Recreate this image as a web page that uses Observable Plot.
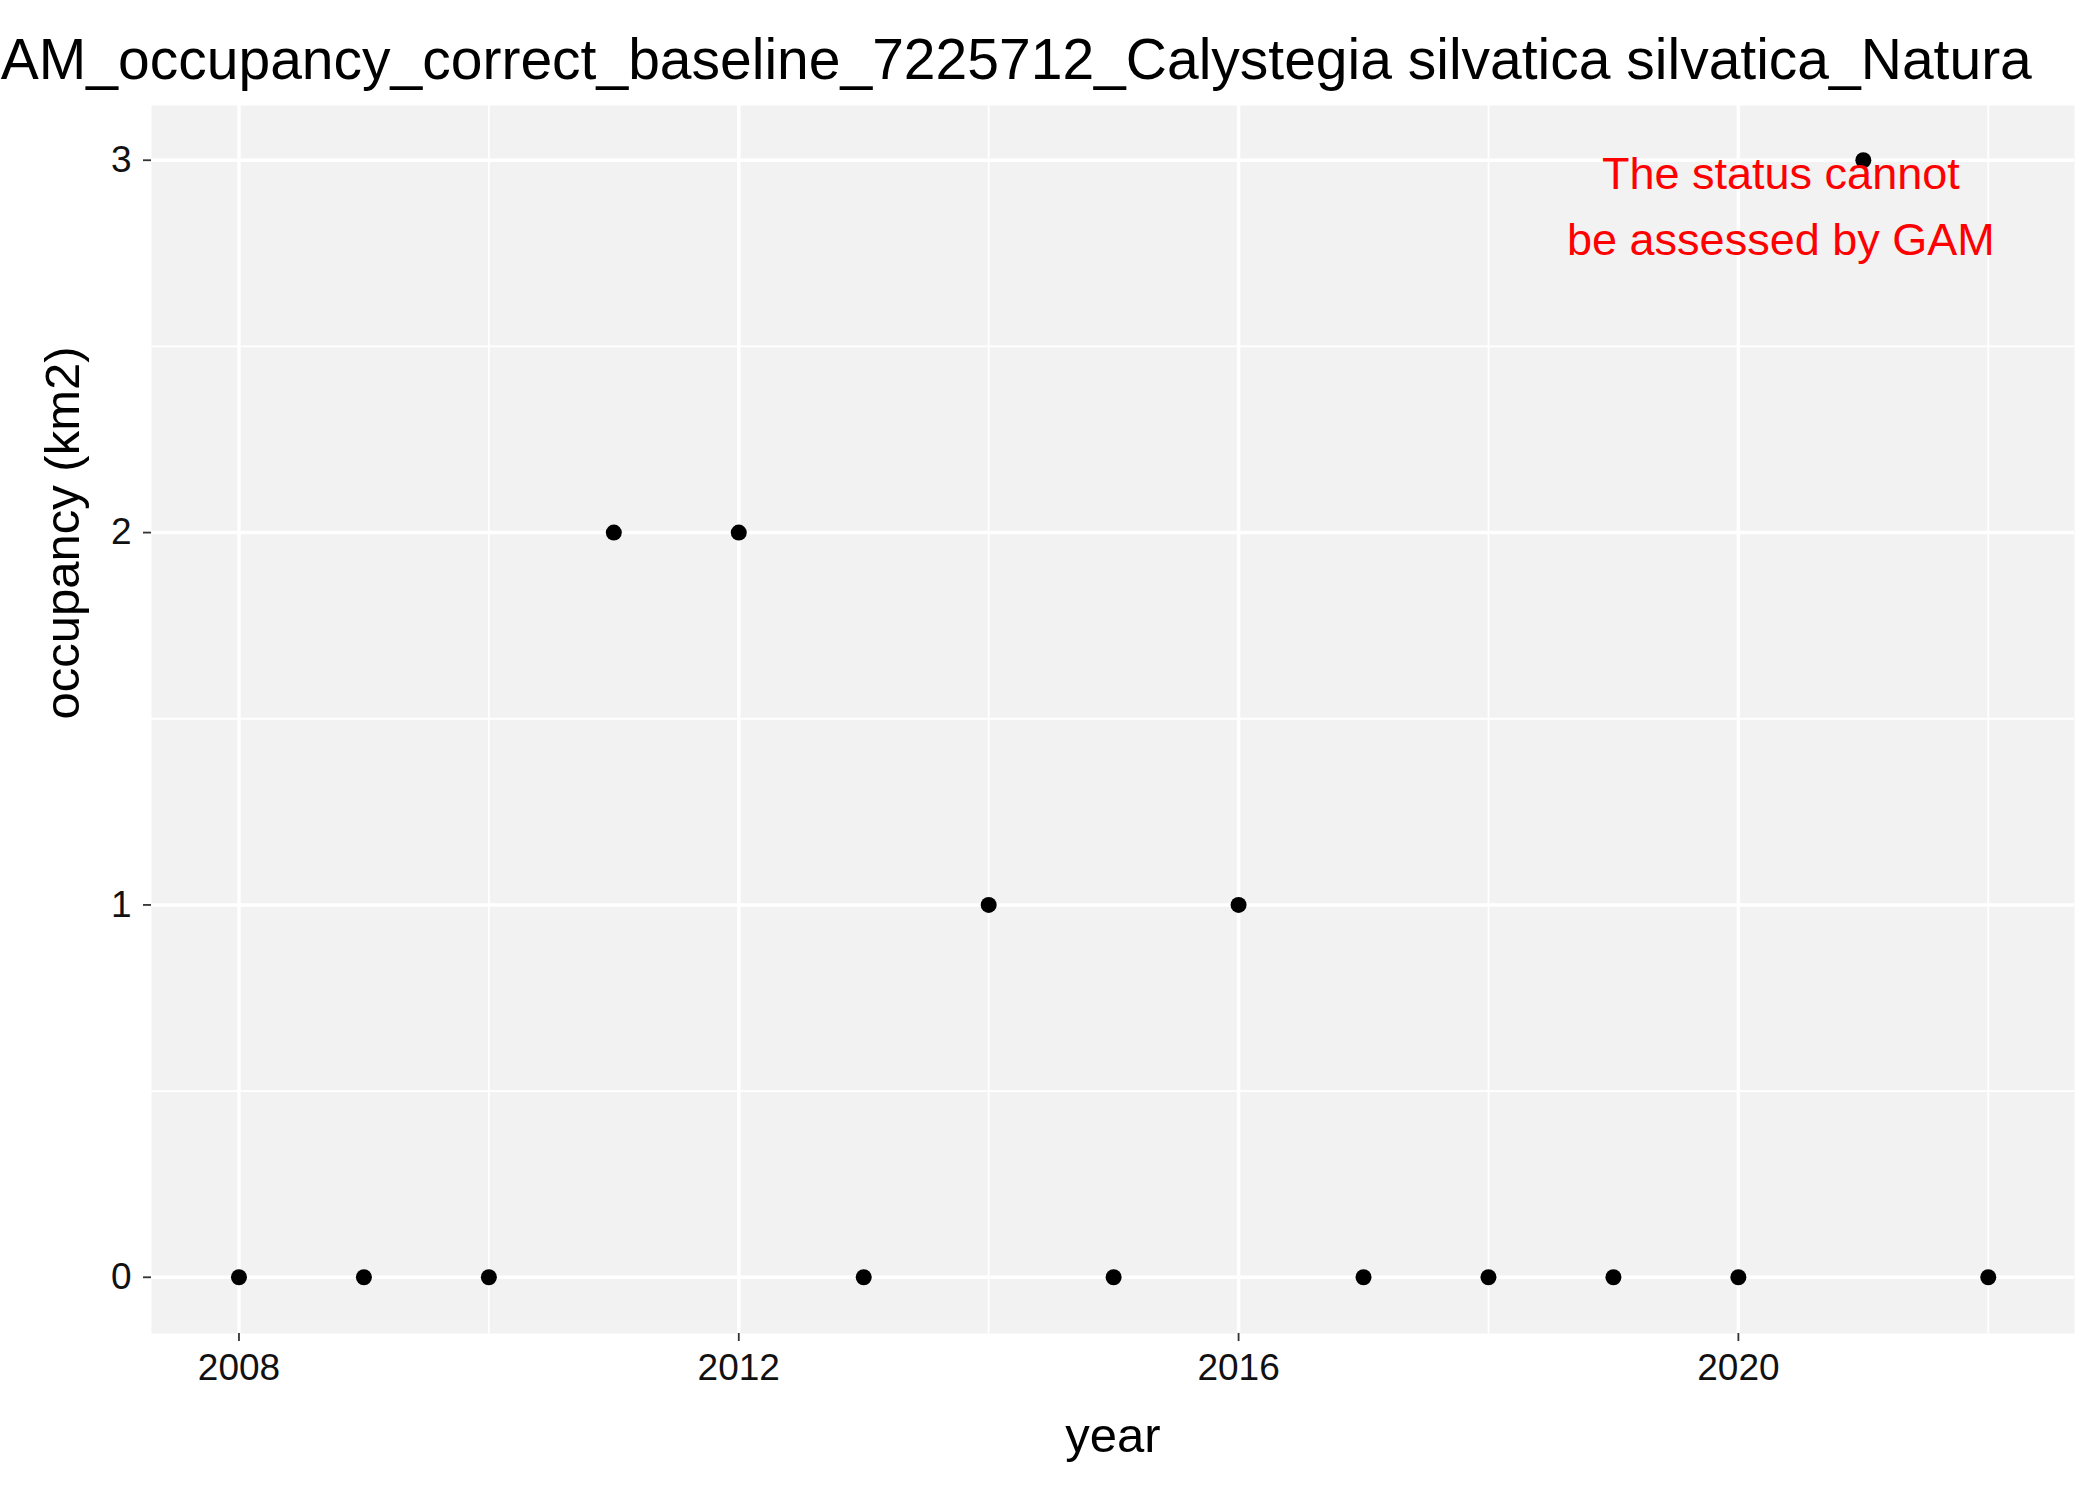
<!DOCTYPE html>
<html><head><meta charset="utf-8">
<script src="https://cdn.jsdelivr.net/npm/d3@7"></script>
<script src="https://cdn.jsdelivr.net/npm/@observablehq/plot@0.6"></script>
<style>body{margin:0;background:#fff;font-family:"Liberation Sans",Arial,sans-serif}svg{overflow:hidden}</style>
</head><body><div id="c"></div>
<script>
const years = [2008,2009,2010,2011,2012,2013,2014,2015,2016,2017,2018,2019,2020,2021,2022];
const occupancy = [0,0,0,2,2,0,1,0,1,0,0,0,0,3,0];
const xTicks = [2008,2012,2016,2020];
const xMinor = [2010,2014,2018,2022];
const yTicks = [0,1,2,3];
const yMinor = [0.5,1.5,2.5];
const title = "GAM_occupancy_correct_baseline_7225712_Calystegia silvatica silvatica_Natura";
const note = "The status cannot\nbe assessed by GAM";
const data = years.map((y,i)=>({year:y, occ:occupancy[i]}));
const W=2100,H=1499,ml=151,mr=26,mt=105,mb=166;
const chart = Plot.plot({
  width:W,height:H,marginLeft:ml,marginRight:mr,marginTop:mt,marginBottom:mb,
  style:{fontFamily:"Liberation Sans, Arial, sans-serif",background:"#fff",overflow:"hidden"},
  x:{domain:[2007.30,2022.69],label:null},
  y:{domain:[-0.151,3.147],label:null},
  marks:[
    Plot.frame({fill:"#f2f2f2",stroke:null}),
    Plot.gridX(xMinor,{stroke:"#fff",strokeOpacity:1,strokeWidth:1.8}),
    Plot.gridY(yMinor,{stroke:"#fff",strokeOpacity:1,strokeWidth:1.8}),
    Plot.gridX(xTicks,{stroke:"#fff",strokeOpacity:1,strokeWidth:3.5}),
    Plot.gridY(yTicks,{stroke:"#fff",strokeOpacity:1,strokeWidth:3.5}),
    Plot.axisX(xTicks,{tickFormat:d=>String(d),fontSize:37,tickSize:8,tickPadding:12,stroke:"#333",fill:"#111",strokeWidth:1.8,label:null}),
    Plot.axisY(yTicks,{tickFormat:d=>String(d),fontSize:37,tickSize:8,tickPadding:12,stroke:"#333",fill:"#111",strokeWidth:1.8,label:null}),
    Plot.dot(data,{x:"year",y:"occ",r:8,fill:"#000",stroke:null}),
    Plot.text([note],{x:2020.34,y:2.89,text:d=>d,fill:"red",fontSize:45,lineHeight:1.46,textAnchor:"middle"}),
    Plot.text([title],{frameAnchor:"top-left",dx:-195,dy:-67,textAnchor:"start",fontSize:57,fill:"#000"}),
    Plot.text(["year"],{frameAnchor:"bottom",dy:118,fontSize:49,fill:"#000"}),
    Plot.text(["occupancy (km2)"],{frameAnchor:"left",dx:-88,rotate:-90,fontSize:49,fill:"#000"})
  ]
});
document.getElementById("c").appendChild(chart);
</script></body></html>
